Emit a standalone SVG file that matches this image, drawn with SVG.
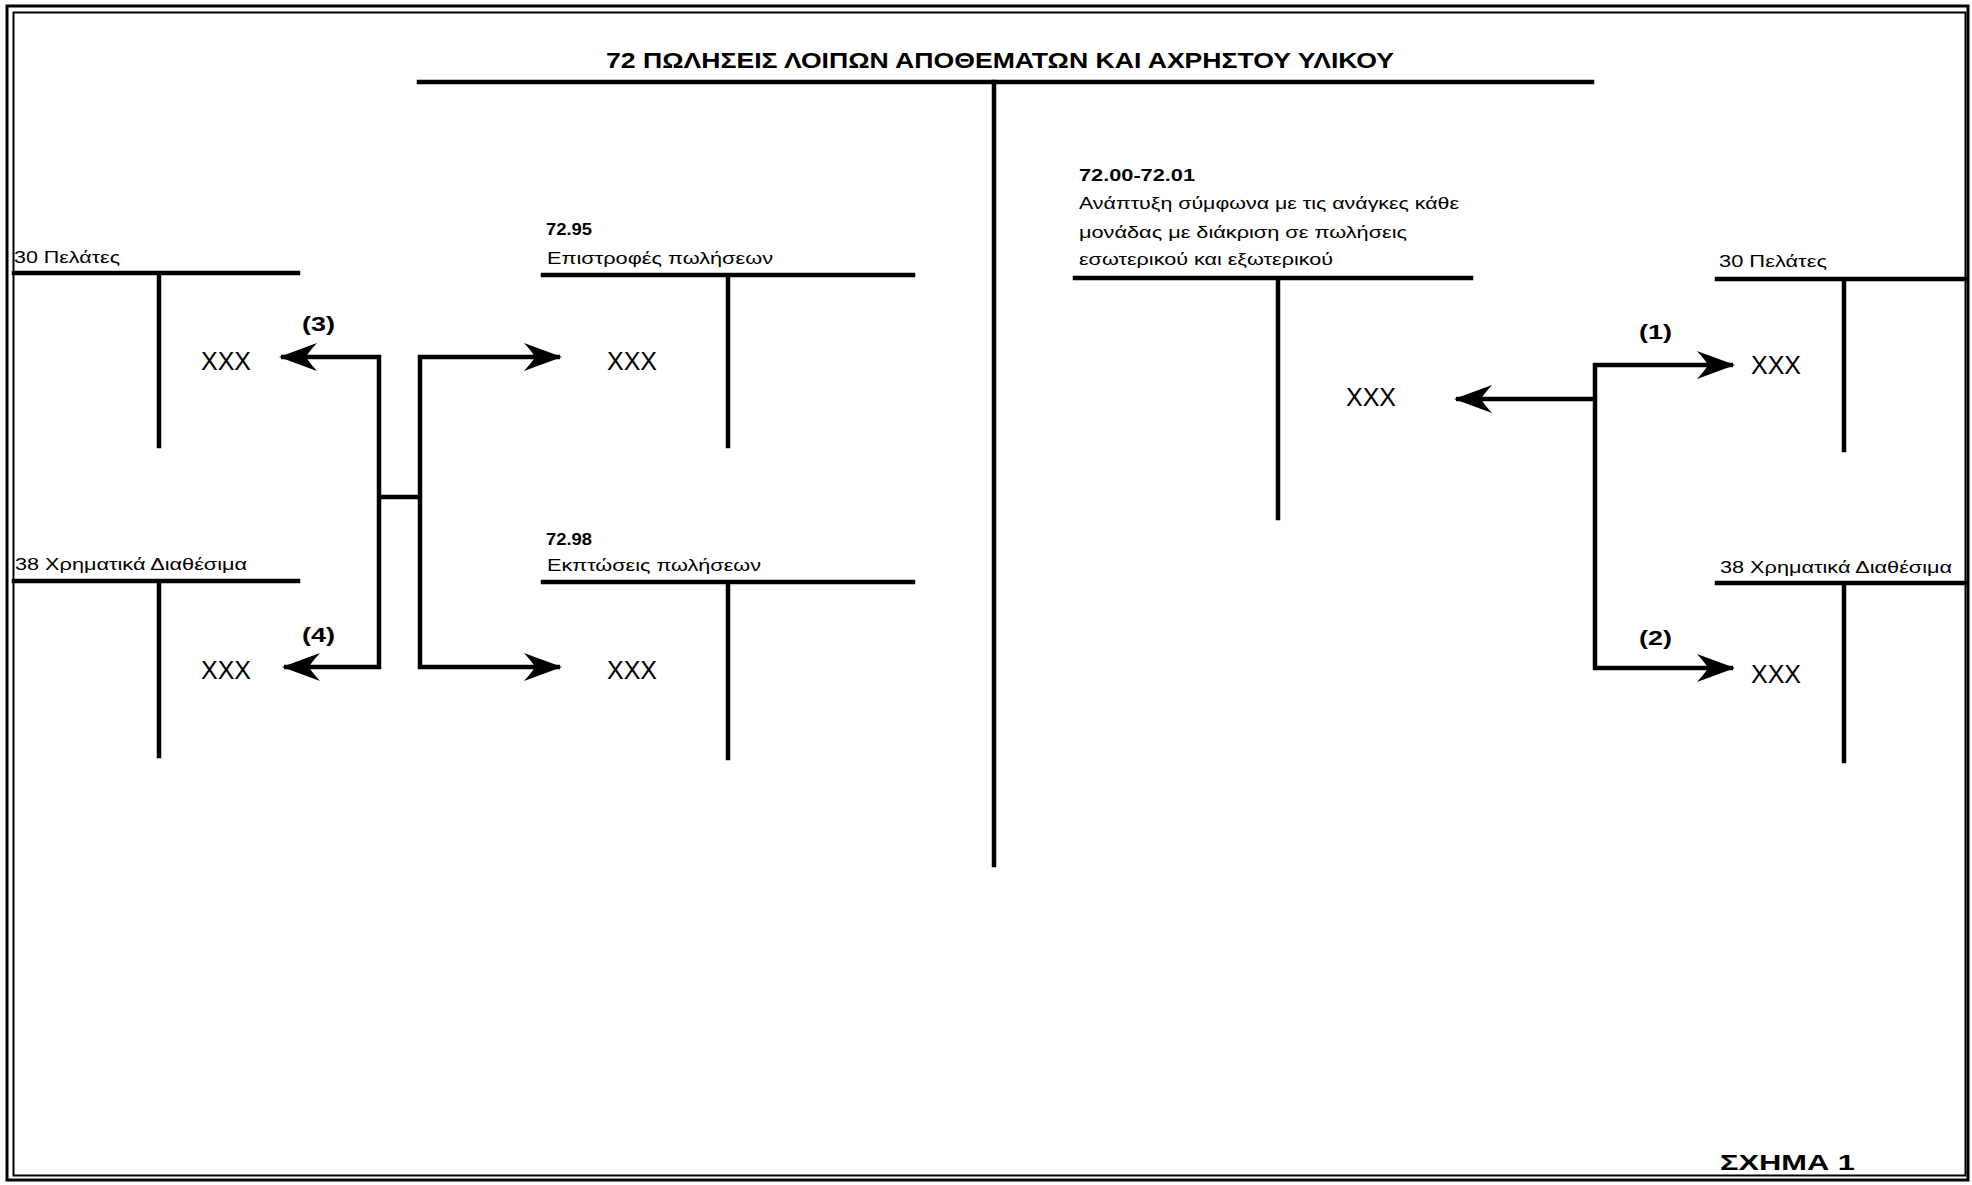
<svg xmlns="http://www.w3.org/2000/svg" width="1972" height="1185" viewBox="0 0 1972 1185">
<style>
  .ln{stroke:#000;stroke-width:4.5;fill:none;stroke-linecap:square}
  .con{stroke:#000;stroke-width:4.5;fill:none;stroke-linejoin:miter}
  .t{font-family:"Liberation Sans",Arial,sans-serif;font-size:16px;fill:#000}
  .b{font-weight:bold}
  .x{font-size:25px}
  .n{font-size:20px;font-weight:bold}
  .ttl{font-size:22px;font-weight:bold}
</style>
<defs>
  <marker id="ah" markerUnits="userSpaceOnUse" markerWidth="42" markerHeight="32" viewBox="-40 -16 42 32" refX="0" refY="0" orient="auto">
    <path d="M2,0 L-36,-14 Q-27,-4 -25,0 Q-27,4 -36,14 Z" fill="#000"/>
  </marker>
</defs>
<rect width="1972" height="1185" fill="#fff"/>
<g id="frame" fill="none" stroke="#000">
  <rect x="7" y="6" width="1961" height="1174" stroke-width="3"/>
  <rect x="13.5" y="12.5" width="1952" height="1163" stroke-width="2"/>
</g>

<g id="title">
  <text class="t ttl" x="606" y="68" textLength="788" lengthAdjust="spacingAndGlyphs">72 ΠΩΛΗΣΕΙΣ ΛΟΙΠΩΝ ΑΠΟΘΕΜΑΤΩΝ ΚΑΙ ΑΧΡΗΣΤΟΥ ΥΛΙΚΟΥ</text>
  <path class="ln" d="M419,82 H1592"/>
  <path class="ln" d="M994,82 V865"/>
</g>

<g id="left-30">
  <text class="t" x="14" y="263" textLength="106" lengthAdjust="spacingAndGlyphs">30 Πελάτες</text>
  <path class="ln" d="M14,273 H298 M159,273 V446"/>
  <text class="t x" x="201" y="370">XXX</text>
</g>
<g id="left-38">
  <text class="t" x="15" y="570" textLength="232" lengthAdjust="spacingAndGlyphs">38 Χρηματικά Διαθέσιμα</text>
  <path class="ln" d="M14,581 H298 M159,581 V756"/>
  <text class="t x" x="201" y="679">XXX</text>
</g>
<g id="acc-7295">
  <text class="t b" x="546" y="235" textLength="46" lengthAdjust="spacingAndGlyphs">72.95</text>
  <text class="t" x="547" y="264" textLength="226" lengthAdjust="spacingAndGlyphs">Επιστροφές πωλήσεων</text>
  <path class="ln" d="M543,275 H913 M728,275 V446"/>
  <text class="t x" x="607" y="370">XXX</text>
</g>
<g id="acc-7298">
  <text class="t b" x="546" y="545" textLength="46" lengthAdjust="spacingAndGlyphs">72.98</text>
  <text class="t" x="547" y="571" textLength="214" lengthAdjust="spacingAndGlyphs">Εκπτώσεις πωλήσεων</text>
  <path class="ln" d="M543,582 H913 M728,582 V758"/>
  <text class="t x" x="607" y="679">XXX</text>
</g>
<g id="acc-7200">
  <text class="t b" x="1079" y="181" textLength="116" lengthAdjust="spacingAndGlyphs">72.00-72.01</text>
  <text class="t" x="1079" y="209" textLength="380" lengthAdjust="spacingAndGlyphs">Ανάπτυξη σύμφωνα με τις ανάγκες κάθε</text>
  <text class="t" x="1079" y="238" textLength="328" lengthAdjust="spacingAndGlyphs">μονάδας με διάκριση σε πωλήσεις</text>
  <text class="t" x="1079" y="265" textLength="254" lengthAdjust="spacingAndGlyphs">εσωτερικού και εξωτερικού</text>
  <path class="ln" d="M1075,278 H1471 M1278,278 V518"/>
  <text class="t x" x="1346" y="406">XXX</text>
</g>
<g id="right-30">
  <text class="t" x="1719" y="267" textLength="108" lengthAdjust="spacingAndGlyphs">30 Πελάτες</text>
  <path class="ln" d="M1717,279 H1966 M1844,279 V450"/>
  <text class="t x" x="1751" y="374">XXX</text>
</g>
<g id="right-38">
  <text class="t" x="1720" y="573" textLength="232" lengthAdjust="spacingAndGlyphs">38 Χρηματικά Διαθέσιμα</text>
  <path class="ln" d="M1717,583 H1966 M1844,583 V761"/>
  <text class="t x" x="1751" y="683">XXX</text>
</g>

<g id="connectors">
  <path class="con" d="M379,497 V357 H281" marker-end="url(#ah)"/>
  <path class="con" d="M379,497 V667 H284" marker-end="url(#ah)"/>
  <path class="con" d="M377,497 H422"/>
  <path class="con" d="M420,497 V357 H560" marker-end="url(#ah)"/>
  <path class="con" d="M420,497 V667 H560" marker-end="url(#ah)"/>
  <path class="con" d="M1597,399 H1456" marker-end="url(#ah)"/>
  <path class="con" d="M1595,399 V365 H1733" marker-end="url(#ah)"/>
  <path class="con" d="M1595,399 V668 H1733" marker-end="url(#ah)"/>
</g>
<g id="labels">
  <text class="t n" x="302" y="331" textLength="33" lengthAdjust="spacingAndGlyphs">(3)</text>
  <text class="t n" x="302" y="642" textLength="33" lengthAdjust="spacingAndGlyphs">(4)</text>
  <text class="t n" x="1639" y="339" textLength="33" lengthAdjust="spacingAndGlyphs">(1)</text>
  <text class="t n" x="1639" y="645" textLength="33" lengthAdjust="spacingAndGlyphs">(2)</text>
  <text class="t ttl" x="1720" y="1170" textLength="135" lengthAdjust="spacingAndGlyphs">ΣΧΗΜΑ 1</text>
</g>
</svg>
